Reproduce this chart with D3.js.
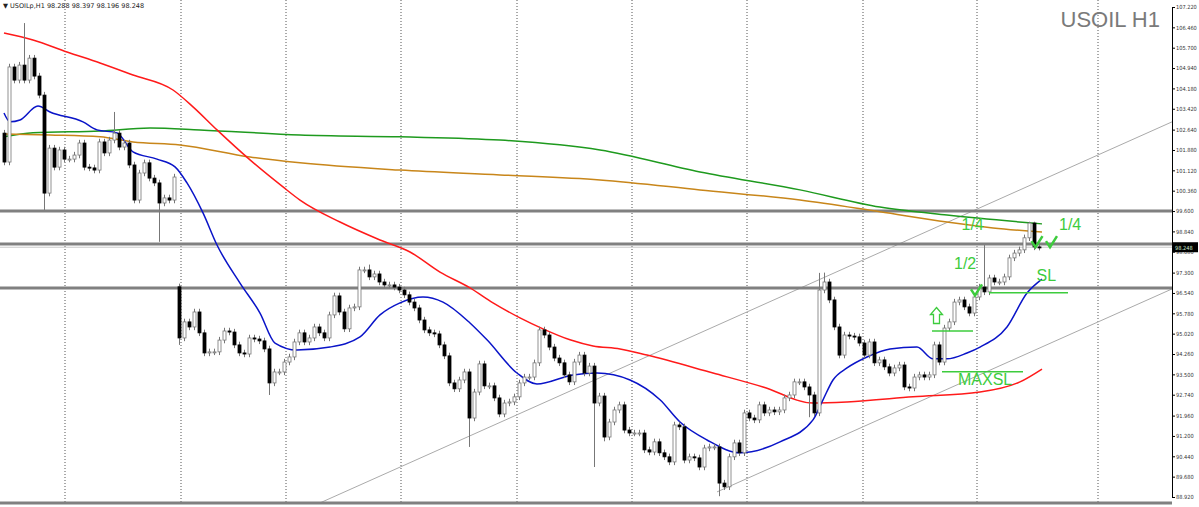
<!DOCTYPE html>
<html>
<head>
<meta charset="utf-8">
<script src="https://cdn.jsdelivr.net/npm/d3@7"></script>
<style>
  body { margin: 0; background: #fff; }
  svg { display: block; }
</style>
</head>
<body>
<script>
// hourly closes (open = previous close, except gaps)
const closes = [
  101.43, 104.98, 104.49, 105.05, 104.49, 105.31, 104.64, 103.93, 100.27, 101.95,
  101.24, 101.88, 101.54, 101.54, 101.69, 102.14, 101.24, 101.21, 101.13, 102.18,
  101.77, 102.25, 102.51, 101.99, 102.14, 101.32, 100.01, 101.02, 101.40, 100.83,
  100.65, 99.90, 100.09, 100.01, 100.87,
  94.86, 95.46, 95.27, 95.83, 95.05, 94.30, 94.34, 94.34, 94.78, 95.12,
  95.08, 94.60, 94.30, 94.26, 94.86, 94.82, 94.75, 94.45, 93.18, 93.59,
  93.59, 93.96, 94.15, 94.71, 95.05, 94.71, 94.86, 95.27, 95.05, 94.86,
  95.72, 96.43, 95.83, 95.20, 95.98, 96.02, 97.40, 97.40, 97.14, 97.25,
  96.95, 96.84, 96.84, 96.76, 96.65, 96.47, 96.20, 95.98, 95.53, 95.16,
  95.05, 95.01, 94.60, 94.19, 93.18, 92.96, 93.29, 93.59, 91.87, 92.84,
  93.89, 93.07, 93.07, 92.62, 92.02, 92.43, 92.47, 92.66, 93.18, 93.40,
  93.40, 93.93, 95.16, 94.97, 94.52, 94.11, 93.93, 93.48, 93.22, 93.96,
  94.22, 93.55, 93.81, 92.43, 92.69, 91.16, 91.72, 92.17,
  92.36, 91.42, 91.31, 91.31, 91.31, 90.68, 90.60, 90.98, 90.57, 90.42,
  90.23, 91.61, 91.54, 90.30, 90.42, 90.38, 90.04, 90.75, 90.79, 90.79,
  89.44, 89.30, 90.42, 90.94, 90.57, 92.06, 91.87, 91.80, 92.36, 92.06,
  92.17, 92.10, 92.17, 92.62, 92.73, 93.22, 93.22, 93.03, 92.73, 92.06,
  96.65, 96.95, 96.28, 95.27, 94.22, 94.97, 94.93, 94.90, 94.67, 94.22,
  94.71, 93.93, 94.04, 93.78, 93.55, 93.74, 93.85, 93.03, 92.99, 93.40,
  93.48, 93.40, 93.48, 94.60, 93.96, 95.23, 95.46, 96.20, 96.28, 96.02,
  95.79, 96.39,
  96.76, 96.58, 97.10, 96.95, 96.95, 97.14, 97.85, 98.03, 98.15, 98.60,
  99.15, 98.26, 98.25
]
const firstOpen = 102.51
const gapOpens = { 35: 96.77 }
// candles whose wicks reach well beyond the body
const highSpikes = { 4: 106.62, 22: 103.3, 73: 97.6, 163: 97.29, 164: 97.3, 196: 98.33, 205: 99.2, 206: 99.2 }
const lowSpikes = { 8: 99.64, 31: 98.45, 35: 94.6, 53: 92.73, 93: 90.79, 118: 90.04, 120: 91.0, 143: 88.95, 161: 91.9 }

// moving averages, [candle index, price]
const maBlue = [
  [0, 103.26], [1.2, 102.93], [3.2, 103.0], [6.8, 103.52], [9.2, 103.3], [15.8, 102.93],
  [18.6, 102.63], [22.6, 102.52], [25.8, 101.81], [30.6, 101.54], [34.2, 101.25],
  [36.6, 100.65], [39.8, 99.53], [42.6, 98.33], [47.2, 96.91], [51.2, 95.79],
  [54.2, 94.67], [58.6, 94.41], [65.2, 94.52], [71.2, 94.9], [75.2, 95.72],
  [79.2, 96.17], [83.8, 96.39], [87.8, 96.2], [93.2, 95.42], [96.6, 94.79],
  [102.6, 93.55], [106.6, 93.14], [113.8, 93.48], [118.6, 93.55], [125.2, 93.29],
  [131.2, 92.55], [135.2, 91.72], [140.6, 91.05], [147.2, 90.57], [155.2, 90.98],
  [161.8, 91.8], [163.8, 92.55], [165.8, 93.29], [168.6, 93.74], [172.6, 94.15],
  [177.2, 94.45], [182.6, 94.52], [185.8, 94.08], [188.6, 94.08], [192.6, 94.3],
  [195.2, 94.52], [200.6, 95.27], [204.6, 96.54], [207.6, 97.06]
]
const maRed = [
  [0, 106.25], [5.8, 105.99], [12.6, 105.54], [19.2, 105.13], [25.8, 104.68],
  [33.8, 104.12], [37.8, 103.49], [42.6, 102.63], [49.2, 101.51], [55.8, 100.5],
  [59.2, 100.01], [67.2, 99.19], [75.2, 98.52], [81.2, 98.07], [87.2, 97.32],
  [93.2, 96.73], [97.8, 96.17], [103.2, 95.61], [107.8, 95.2], [113.2, 94.79],
  [117.8, 94.56], [123.2, 94.45], [128.6, 94.22], [141.8, 93.55], [151.8, 93.03],
  [161.8, 92.43], [168.6, 92.47], [181.8, 92.66], [195.2, 92.84], [203.2, 93.22],
  [207.6, 93.7]
]
const maGreen = [
  [0, 102.37], [5.8, 102.52], [19.2, 102.59], [29.2, 102.7], [39.2, 102.63],
  [59.2, 102.44], [79.2, 102.37], [99.2, 102.25], [119.2, 101.88], [139.2, 101.06],
  [159.2, 100.39], [175.2, 99.75], [188.6, 99.45], [207.6, 99.12]
]
const maOrange = [
  [0, 102.48], [9.2, 102.44], [19.2, 102.37], [25.8, 102.18], [35.2, 102.07],
  [49.2, 101.62], [59.2, 101.4], [79.2, 101.13], [99.2, 100.95], [119.2, 100.76],
  [139.2, 100.39], [159.2, 100.01], [175.2, 99.57], [188.6, 99.19], [197.8, 98.97],
  [207.6, 98.82]
]
const channelLines = [
  [[63.2, 88.7], [233.6, 102.93]],
  [[142.6, 89.11], [233.6, 96.69]]
]
const levels = [99.60, 98.37, 96.73]
const lastPrice = 98.248
const gridIdx = [12.2, 35.4, 56.4, 79.4, 102.6, 125.6, 148.6, 171.8, 194.6, 218.8]
const yTicks = ['107.220', '106.460', '105.700', '104.940', '104.180', '103.420', '102.640',
  '101.880', '101.120', '100.360', '99.600', '98.840', '98.080', '97.300', '96.540',
  '95.780', '95.020', '94.260', '93.500', '92.740', '91.960', '91.200', '90.440',
  '89.680', '88.920']

// trade annotations [candle index, price]
const notes = [
  { text: '1/4', at: [191.5, 98.9] },
  { text: '1/4', at: [211, 98.9] },
  { text: '1/2', at: [190, 97.45] },
  { text: 'SL', at: [206.5, 97.0] },
  { text: 'MAXSL', at: [190.8, 93.1] }
]
const greenLevels = [
  { from: 197, to: 212.8, price: 96.55 },
  { from: 185.6, to: 193.8, price: 95.12 },
  { from: 187.6, to: 203.8, price: 93.6 }
]
const checks = [[194.2, 96.6], [206.3, 98.4], [209.2, 98.4]]
const arrowAt = [186.5, 95.4]

const width = 1199
const height = 507
const plotRight = 1172
const green = '#3dcc3d'

const svg = d3.select('body').append('svg')
  .attr('width', width)
  .attr('height', height)
  .attr('viewBox', [0, 0, width, height])

const x = d3.scaleLinear().domain([0, 234]).range([4, 1174])
const y = d3.scaleLinear().domain([107.22, 88.92]).range([7, 497])

svg.append('clipPath').attr('id', 'plot')
  .append('rect').attr('x', 0).attr('y', 0).attr('width', plotRight).attr('height', 503)

const plot = svg.append('g').attr('clip-path', 'url(#plot)')

// vertical dotted grid
plot.selectAll('.grid')
  .data(gridIdx)
  .join('line')
    .attr('x1', d => x(d)).attr('x2', d => x(d))
    .attr('y1', 0).attr('y2', 503)
    .attr('stroke', '#555')
    .attr('stroke-dasharray', '1 2')

// channel lines
plot.selectAll('.chan')
  .data(channelLines)
  .join('line')
    .attr('x1', d => x(d[0][0])).attr('y1', d => y(d[0][1]))
    .attr('x2', d => x(d[1][0])).attr('y2', d => y(d[1][1]))
    .attr('stroke', '#aaa')
    .attr('stroke-width', 1)

// horizontal levels
plot.selectAll('.lvl')
  .data(levels)
  .join('line')
    .attr('x1', 0).attr('x2', plotRight)
    .attr('y1', d => y(d)).attr('y2', d => y(d))
    .attr('stroke', '#808080')
    .attr('stroke-width', 3)

plot.append('line')
  .attr('x1', 0).attr('x2', plotRight)
  .attr('y1', y(lastPrice)).attr('y2', y(lastPrice))
  .attr('stroke', '#c8c8c8')

// moving averages
const maLine = d3.line().curve(d3.curveMonotoneX).x(d => x(d[0])).y(d => y(d[1]))
const mas = [[maGreen, '#1e9a1e'], [maOrange, '#c8861a'], [maRed, '#ff1a1a'], [maBlue, '#0a14c8']]
mas.forEach(([pts, col]) => {
  plot.append('path')
    .attr('d', maLine(pts))
    .attr('fill', 'none')
    .attr('stroke', col)
    .attr('stroke-width', 1.5)
})

// candles
const candles = closes.map((c, i) => {
  const o = i === 0 ? firstOpen : (gapOpens[i] !== undefined ? gapOpens[i] : closes[i - 1])
  const hi = highSpikes[i] !== undefined ? highSpikes[i] : Math.max(o, c) + 0.12
  const lo = lowSpikes[i] !== undefined ? lowSpikes[i] : Math.min(o, c) - 0.12
  return { i, o, c, hi, lo }
})

const cg = plot.append('g')
cg.selectAll('line')
  .data(candles)
  .join('line')
    .attr('x1', d => x(d.i) + 0.5).attr('x2', d => x(d.i) + 0.5)
    .attr('y1', d => y(d.hi)).attr('y2', d => y(d.lo))
    .attr('stroke', '#777')
cg.selectAll('rect')
  .data(candles)
  .join('rect')
    .attr('x', d => x(d.i) - 1)
    .attr('y', d => y(Math.max(d.o, d.c)))
    .attr('width', 3)
    .attr('height', d => Math.max(1, Math.abs(y(d.o) - y(d.c))))
    .attr('fill', d => d.c < d.o ? '#000' : '#fff')
    .attr('stroke', d => d.c < d.o ? '#000' : '#777')
    .attr('stroke-width', 0.8)

// annotations
const ann = plot.append('g')
ann.selectAll('.gl')
  .data(greenLevels)
  .join('line')
    .attr('x1', d => x(d.from)).attr('x2', d => x(d.to))
    .attr('y1', d => y(d.price)).attr('y2', d => y(d.price))
    .attr('stroke', green).attr('stroke-width', 1.5)
ann.selectAll('text')
  .data(notes)
  .join('text')
    .attr('x', d => x(d.at[0])).attr('y', d => y(d.at[1]))
    .attr('font-family', 'Liberation Sans, Arial, sans-serif')
    .attr('font-size', 16)
    .attr('fill', green)
    .text(d => d.text)
ann.selectAll('.chk')
  .data(checks)
  .join('path')
    .attr('d', d => {
      const cx = x(d[0]), cy = y(d[1])
      return `M${cx - 4},${cy - 2}L${cx},${cy + 4}L${cx + 7},${cy - 7}`
    })
    .attr('fill', 'none').attr('stroke', green).attr('stroke-width', 2.5)
{
  const ax = x(arrowAt[0]), ay = y(arrowAt[1])
  ann.append('path')
    .attr('d', `M${ax},${ay - 16}L${ax + 6},${ay - 9}L${ax + 3},${ay - 9}L${ax + 3},${ay}L${ax - 3},${ay}L${ax - 3},${ay - 9}L${ax - 6},${ay - 9}Z`)
    .attr('fill', 'none').attr('stroke', green).attr('stroke-width', 1.3)
}

// bottom border
svg.append('line')
  .attr('x1', 0).attr('x2', plotRight).attr('y1', 503).attr('y2', 503)
  .attr('stroke', '#808080').attr('stroke-width', 3)

// right price axis
const axis = svg.append('g')
  .attr('transform', `translate(${plotRight},0)`)
  .call(d3.axisRight(y).tickValues(yTicks.map(Number)).tickSize(3).tickFormat((d, i) => yTicks[i]))
axis.select('.domain').attr('stroke', '#000')
axis.selectAll('text')
  .attr('font-family', 'DejaVu Sans Condensed, DejaVu Sans, sans-serif')
  .attr('font-size', 5.6)
  .attr('fill', '#333')
  .attr('x', 4)

svg.append('rect')
  .attr('x', plotRight + 1).attr('y', y(lastPrice) - 5)
  .attr('width', 25).attr('height', 10)
  .attr('fill', '#000')
svg.append('text')
  .attr('x', plotRight + 3).attr('y', y(lastPrice) + 2.5)
  .attr('font-family', 'DejaVu Sans Condensed, DejaVu Sans, sans-serif')
  .attr('font-size', 5.6)
  .attr('fill', '#cfe8cf')
  .text(lastPrice.toFixed(3))

// titles
svg.append('text')
  .attr('x', 1160).attr('y', 27)
  .attr('text-anchor', 'end')
  .attr('font-family', 'Liberation Sans, Arial, sans-serif')
  .attr('font-size', 22)
  .attr('fill', '#7a7a7a')
  .text('USOIL H1')

svg.append('text')
  .attr('x', 3).attr('y', 8)
  .attr('font-family', 'DejaVu Sans, sans-serif')
  .attr('font-size', 6.5)
  .attr('fill', '#222')
  .text('▼ USOILp,H1  98.288 98.397 98.196 98.248')
</script>
</body>
</html>
